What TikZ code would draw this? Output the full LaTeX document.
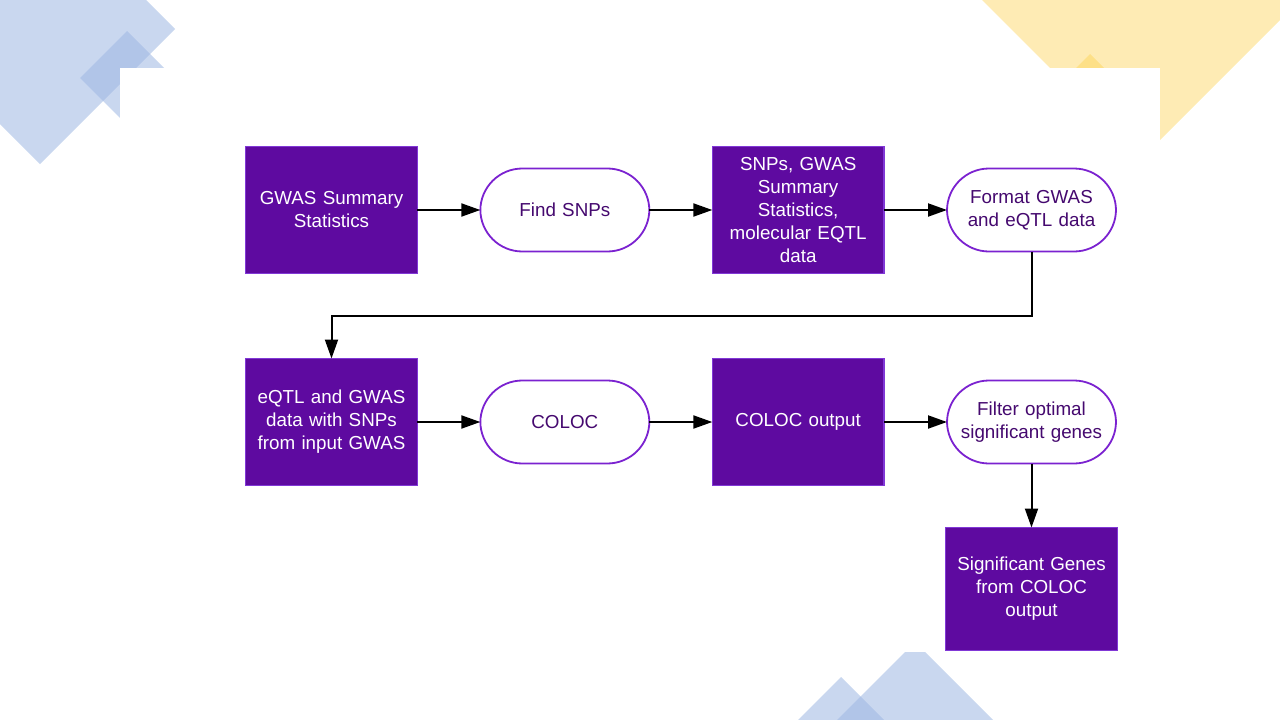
\documentclass[tikz,border=0pt]{standalone}
\usepackage{fontspec}
\setmainfont{Liberation Sans}
\usetikzlibrary{positioning,arrows.meta}

\definecolor{boxfill}{HTML}{5E0AA0}
\definecolor{boxline}{HTML}{8138D6}
\definecolor{termline}{HTML}{7B22D0}
\definecolor{termtext}{HTML}{45096F}
\definecolor{decoblue}{HTML}{9DB6E2}
\definecolor{decoyellow}{HTML}{FDD86A}

\tikzset{
  data/.style={rectangle, fill=boxfill, draw=boxline, line width=1.5pt,
    outer sep=0pt, text=white, align=center, minimum width=169.5pt,
    minimum height=127pt, text width=165pt, font=\fontsize{18.8}{23}\selectfont},
  proc/.style={rectangle, rounded corners=42pt, fill=white, draw=termline,
    line width=1.8pt, outer sep=0pt, text=termtext, align=center,
    minimum width=169pt, minimum height=83pt, text width=160pt,
    font=\fontsize{18.8}{23}\selectfont},
  flow/.style={line width=2pt, -{Triangle[length=19pt,width=13pt]}},
}

\begin{document}
\begin{tikzpicture}[x=1pt, y=-1pt]

  \useasboundingbox (0,0) rectangle (1280,720);

  % background shapes
  \fill[decoblue, opacity=0.55] (175,29) -- (40,164) -- (-100,24) -- (35,-111) -- cycle; %
  \fill[decoblue, opacity=0.55] (127,31) -- (174,78) -- (127,125) -- (80,78) -- cycle; %
  \fill[decoyellow, opacity=0.5] (982,0) -- (1141,159) -- (1300,0) -- cycle; %
  \fill[decoyellow, opacity=0.6] (1090,54) -- (1110,74) -- (1070,74) -- cycle; %
  \fill[decoblue, opacity=0.55] (915,642) -- (993,720) -- (837,720) -- cycle; %
  \fill[decoblue, opacity=0.55] (841,677) -- (884,720) -- (798,720) -- cycle; %
  \fill[white] (120,68) rectangle (1160,652); %

  % first row
  \node[data] at (331.5,210) (gwas) {GWAS Summary\\Statistics}; %
  \node[proc, right=63pt of gwas] (find) {Find SNPs}; %
  \node[data, right=63pt of find] (snps) {SNPs, GWAS\\Summary\\Statistics,\\molecular EQTL\\data}; %
  \node[proc, right=63pt of snps] (fmt) {Format GWAS\\and eQTL data}; %

  % second row
  \node[data, below=85pt of gwas] (eqtl) {eQTL and GWAS\\data with SNPs\\from input GWAS}; %
  \node[proc, right=63pt of eqtl] (coloc) {COLOC}; %
  \node[data, right=63pt of coloc] (cout) {COLOC output}; %
  \node[proc, right=63pt of cout] (filt) {Filter optimal\\significant genes}; %

  % result
  \node[data, below=64pt of filt, minimum height=123pt] (sig) {Significant Genes\\from COLOC\\output}; %

  % edges
  \draw[flow] (gwas) -- (find); %
  \draw[flow] (find) -- (snps); %
  \draw[flow] (snps) -- (fmt); %
  \draw[flow] (fmt.south) -- ++(0,64) -| (eqtl.north); %
  \draw[flow] (eqtl) -- (coloc); %
  \draw[flow] (coloc) -- (cout); %
  \draw[flow] (cout) -- (filt); %
  \draw[flow] (filt) -- (sig); %

\end{tikzpicture}
\end{document}
